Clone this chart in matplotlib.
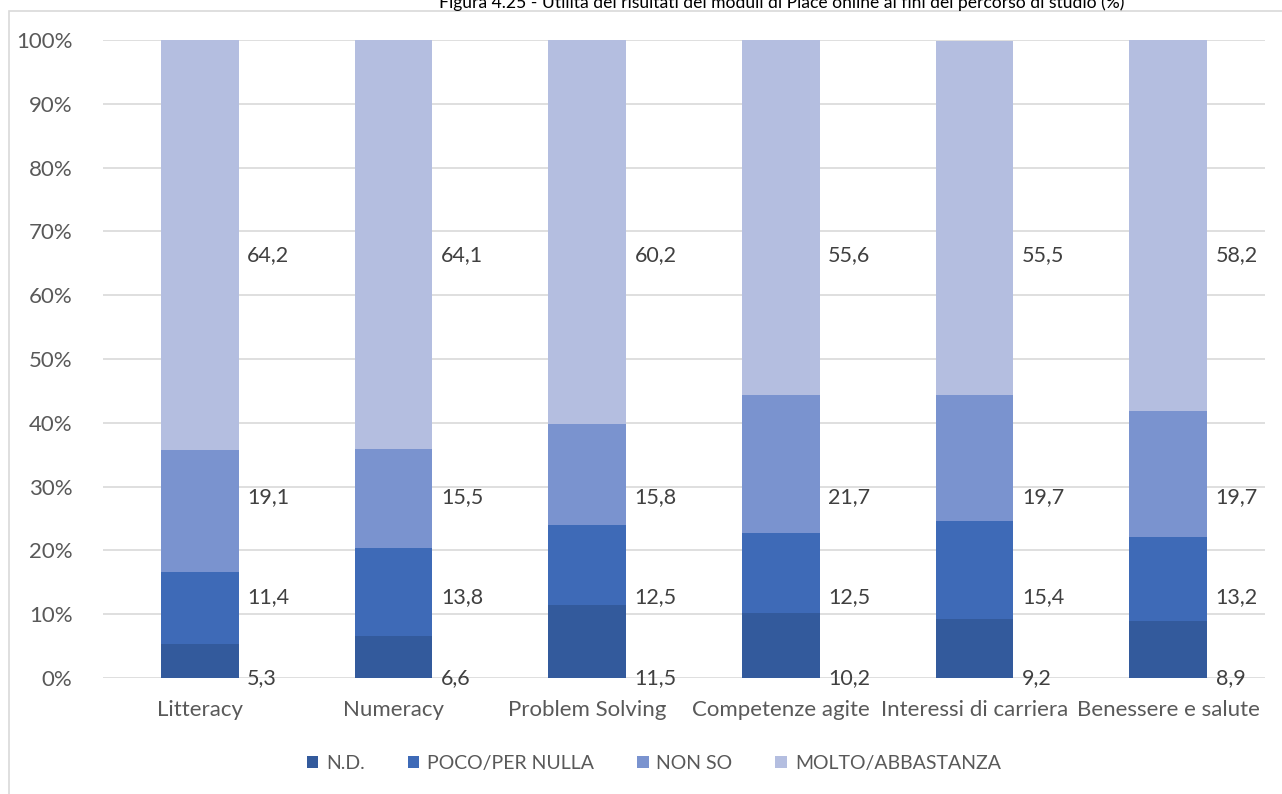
import matplotlib
matplotlib.use('Agg')
import matplotlib.pyplot as plt
from matplotlib.patches import Rectangle
import numpy as np

plt.rcParams['font.family'] = ['Lato', 'DejaVu Sans']

categorie = ['Litteracy', 'Numeracy', 'Problem Solving', 'Competenze agite',
             'Interessi di carriera', 'Benessere e salute']
nd = [5.3, 6.6, 11.5, 10.2, 9.2, 8.9]
poco = [11.4, 13.8, 12.5, 12.5, 15.4, 13.2]
non_so = [19.1, 15.5, 15.8, 21.7, 19.7, 19.7]
molto = [64.2, 64.1, 60.2, 55.6, 55.5, 58.2]

serie = ['N.D.', 'POCO/PER NULLA', 'NON SO', 'MOLTO/ABBASTANZA']
colori = ['#335a9c', '#3e6ab7', '#7a93cf', '#b4bee0']
valori = [nd, poco, non_so, molto]

# altezze fisse delle etichette (come nel grafico originale)
label_y = [0, 12.7, 28.4, 66.3]

fig = plt.figure(figsize=(12.82, 7.94), dpi=100)
ax = fig.add_axes([0.0803, 0.146, 0.9064, 0.8036])

x = np.arange(len(categorie))
base = np.zeros(len(categorie))
for nome, col, vals, ly in zip(serie, colori, valori, label_y):
    vals = np.array(vals)
    ax.bar(x, vals, bottom=base, width=0.40, color=col, label=nome, zorder=2)
    for xi, v in zip(x, vals):
        ax.text(xi + 0.245, ly, f'{v:.1f}'.replace('.', ','), ha='left', va='center',
                fontsize=15.5, color='#404040', zorder=3)
    base += vals

ax.set_xlim(-0.5, len(categorie) - 0.5)
ax.set_ylim(0, 100)
ax.set_yticks(np.arange(0, 101, 10))
ax.set_yticklabels([f'{t}%' for t in range(0, 101, 10)])
ax.set_xticks(x)
ax.set_xticklabels(categorie)
ax.tick_params(axis='both', length=0, labelsize=16, colors='#595959')
ax.tick_params(axis='y', pad=22)
ax.tick_params(axis='x', pad=16)
ax.grid(axis='y', color='#d9d9d9', linewidth=1.2, zorder=0)
for s in ax.spines.values():
    s.set_visible(False)

leg = fig.legend(loc='center', bbox_to_anchor=(0.51, 0.039), ncol=4, frameon=False,
                 fontsize=14, handlelength=0.6, handleheight=0.6, handletextpad=0.4,
                 columnspacing=2.2)
for t in leg.get_texts():
    t.set_color('#595959')

# bordo del grafico
fig.patches.append(Rectangle((9 / 1282, -0.1), 1.2, 1 - 11 / 794 + 0.1,
                             transform=fig.transFigure, fill=False,
                             edgecolor='#d9d9d9', linewidth=1.2))

fig.text(0.61, 1 - 8 / 794, 'Figura 4.25 - Utilità dei risultati dei moduli di Place online ai fini del percorso di studio (%)',
         ha='center', va='baseline', fontsize=12.6, color='#000000')

fig.savefig('out.png', dpi=100)
